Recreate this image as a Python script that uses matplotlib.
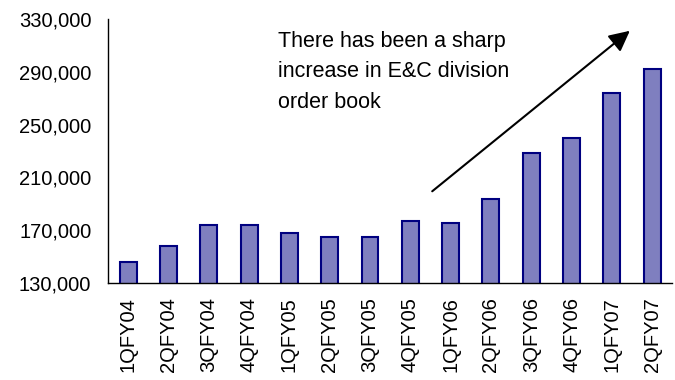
import matplotlib.pyplot as plt
import matplotlib.ticker as ticker

plt.rcParams['font.family'] = ['Liberation Sans', 'DejaVu Sans']

quarters = ['1QFY04', '2QFY04', '3QFY04', '4QFY04', '1QFY05', '2QFY05', '3QFY05',
            '4QFY05', '1QFY06', '2QFY06', '3QFY06', '4QFY06', '1QFY07', '2QFY07']
order_book = [146100, 158300, 173900, 173900, 167700, 164800, 164800,
              177000, 175700, 193900, 228700, 239600, 274200, 292100]
y_ticks = [130000, 170000, 210000, 250000, 290000, 330000]
note = 'There has been a sharp\nincrease in E&C division\norder book'

fig = plt.figure(figsize=(6.75, 3.8), dpi=100)
ax = fig.add_axes([0.16, 0.255, 0.836, 0.695])

x = range(len(quarters))
ax.bar(x, order_book, width=0.42, color='#7f7fbf', edgecolor='#000080', linewidth=1.5)

ax.set_xlim(-0.5, len(quarters) - 0.5)
ax.set_ylim(130000, 330000)
ax.set_yticks(y_ticks)
ax.yaxis.set_major_formatter(ticker.FuncFormatter(lambda v, p: f'{int(v):,}'))
ax.set_xticks(list(x))
ax.set_xticklabels(quarters, rotation=90)
ax.tick_params(axis='both', length=0, labelsize=14.5)
ax.tick_params(axis='y', pad=12)
ax.tick_params(axis='x', pad=10)

for s in ['top', 'right']:
    ax.spines[s].set_visible(False)
for s in ['left', 'bottom']:
    ax.spines[s].set_linewidth(1.0)
    ax.spines[s].set_color('black')

ax.text(0.301, 0.955, note, transform=ax.transAxes, ha='left', va='top',
        fontsize=15.5, linespacing=1.6)

ax.annotate('', xy=(12.5, 322400), xytext=(7.49, 198200),
            arrowprops=dict(arrowstyle='-|>,head_length=0.5,head_width=0.25',
                            color='black', lw=1.5, mutation_scale=25),
            annotation_clip=False)

fig.savefig('out.png', dpi=100)
